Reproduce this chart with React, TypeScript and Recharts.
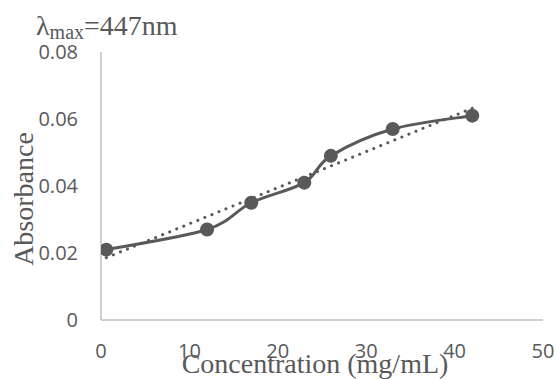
import React from 'react';
import { LineChart, Line, XAxis, YAxis, Label } from 'recharts';

// Absorbance vs. concentration measurements
const concentration = [0.6, 12, 17, 23, 26, 33, 42];
const absorbance = [0.021, 0.027, 0.035, 0.041, 0.049, 0.057, 0.061];

// Linear trendline end points
const trendX = [0.6, 42];
const trendY = [0.0186, 0.0632];

const xTicks = [0, 10, 20, 30, 40, 50];
const yTicks = [0, 0.02, 0.04, 0.06, 0.08];

const measured = concentration.map((x, i) => ({ x, y: absorbance[i] }));
const trend = trendX.map((x, i) => ({ x, y: trendY[i] }));

const GRAY = '#595959';
const AXIS = '#bfbfbf';
const TICK_FONT = '"Open Sans", sans-serif';
const SERIF = '"Liberation Serif", "Times New Roman", serif';

// Spreadsheet-style smoothed line: Catmull-Rom segments as cubic beziers
function smoothCurve(context: any) {
  let xs: number[] = [];
  let ys: number[] = [];
  return {
    areaStart() {},
    areaEnd() {},
    lineStart() {
      xs = [];
      ys = [];
    },
    point(x: number, y: number) {
      xs.push(+x);
      ys.push(+y);
    },
    lineEnd() {
      const n = xs.length;
      if (!n) return;
      context.moveTo(xs[0], ys[0]);
      for (let i = 0; i < n - 1; i++) {
        const p = Math.max(i - 1, 0);
        const q = Math.min(i + 2, n - 1);
        const c1x = xs[i] + (xs[i + 1] - xs[p]) / 6;
        const c1y = ys[i] + (ys[i + 1] - ys[p]) / 6;
        const c2x = xs[i + 1] - (xs[q] - xs[i]) / 6;
        const c2y = ys[i + 1] - (ys[q] - ys[i]) / 6;
        context.bezierCurveTo(c1x, c1y, c2x, c2y, xs[i + 1], ys[i + 1]);
      }
    },
  };
}

export default function App() {
  return (
    <div style={{ position: 'absolute', left: 0, top: 0, width: 557, height: 379, background: '#fff' }}>
      <div
        style={{
          position: 'absolute',
          left: 36,
          top: 11.5,
          fontFamily: SERIF,
          fontSize: 28,
          color: GRAY,
          lineHeight: '28px',
          whiteSpace: 'nowrap',
        }}
      >
        λ<span style={{ fontSize: 20, position: 'relative', top: 4 }}>max</span>=447nm
      </div>
      <LineChart width={557} height={379} margin={{ top: 52, right: 14, left: 0, bottom: 0 }}>
        <XAxis
          type="number"
          dataKey="x"
          domain={[0, 50]}
          ticks={xTicks}
          tickLine={false}
          axisLine={{ stroke: AXIS, strokeWidth: 1.5 }}
          tick={{ fill: GRAY, fontSize: 20, fontFamily: TICK_FONT }}
          tickMargin={18}
          height={59}
          allowDataOverflow
        >
          <Label
            content={() => (
              <text x={315} y={373} textAnchor="middle" fill={GRAY} fontSize={28} fontFamily={SERIF}>
                Concentration (mg/mL)
              </text>
            )}
          />
        </XAxis>
        <YAxis
          type="number"
          domain={[0, 0.08]}
          ticks={yTicks}
          tickLine={false}
          axisLine={{ stroke: AXIS, strokeWidth: 1.5 }}
          tick={{ fill: GRAY, fontSize: 20, fontFamily: TICK_FONT }}
          tickFormatter={(v: number) => (v === 0 ? '0' : v.toFixed(2))}
          tickMargin={17}
          width={101}
        >
          <Label
            content={() => (
              <text
                x={33}
                y={199}
                transform="rotate(-90 33 199)"
                textAnchor="middle"
                fill={GRAY}
                fontSize={28}
                fontFamily={SERIF}
              >
                Absorbance
              </text>
            )}
          />
        </YAxis>
        <Line
          data={trend}
          dataKey="y"
          type="linear"
          stroke={GRAY}
          strokeWidth={3}
          strokeDasharray="0.1 7.5"
          strokeLinecap="round"
          dot={false}
          activeDot={false}
          isAnimationActive={false}
        />
        <Line
          data={measured}
          dataKey="y"
          type={smoothCurve as any}
          stroke={GRAY}
          strokeWidth={3}
          dot={{ r: 7, fill: GRAY, stroke: GRAY, strokeWidth: 0 }}
          activeDot={false}
          isAnimationActive={false}
        />
      </LineChart>
    </div>
  );
}
